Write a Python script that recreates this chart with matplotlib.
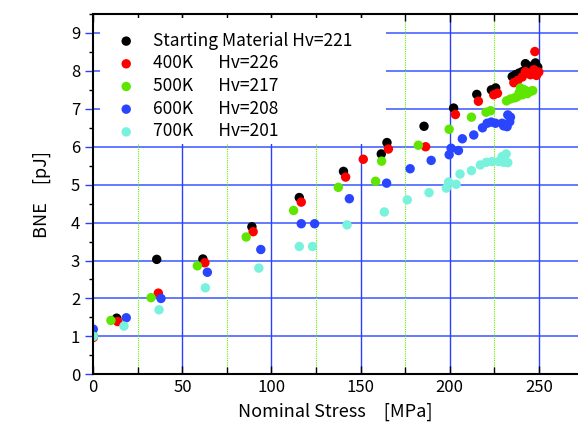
import matplotlib
matplotlib.use("Agg")
import matplotlib.pyplot as plt
from matplotlib.patches import Rectangle
from matplotlib.ticker import MultipleLocator

plt.rcParams['font.family'] = ['Noto Sans CJK JP', 'DejaVu Sans']

# data (Nominal Stress [MPa], BNE [pJ])
black_x = [0, 13.1, 35.6, 61.5, 89.0, 115.6, 140.4, 161.6, 164.8, 185.6, 202.2, 215.2, 223.4, 225.8,
           235.1, 236.9, 238.8, 240.7, 242.5, 244.9, 248.1, 249.4]
black_y = [1.0, 1.48, 3.03, 3.04, 3.89, 4.66, 5.35, 5.81, 6.11, 6.54, 7.02, 7.38, 7.50, 7.55,
           7.85, 7.90, 7.94, 7.98, 8.19, 8.12, 8.21, 8.10]

red_x = [0, 13.7, 36.5, 62.6, 89.7, 116.7, 141.6, 151.5, 165.6, 186.5, 203.2, 216.1, 224.7, 226.8,
         236.0, 238.2, 240.7, 242.5, 243.5, 245.3, 247.2, 247.8, 248.7, 250.0]
red_y = [0.97, 1.39, 2.14, 2.94, 3.76, 4.54, 5.20, 5.67, 5.94, 6.00, 6.85, 7.20, 7.37, 7.41,
         7.69, 7.75, 7.84, 7.98, 7.94, 7.90, 8.03, 8.51, 7.88, 7.97]

green_x = [0, 9.9, 32.4, 58.4, 85.8, 112.4, 137.5, 158.4, 161.8, 182.4, 199.7, 212.2, 220.4, 222.9,
           231.9, 234.1, 236.5, 237.9, 239.0, 239.7, 240.8, 242.0, 243.5, 245.3, 246.6]
green_y = [1.0, 1.42, 2.02, 2.86, 3.62, 4.32, 4.93, 5.09, 5.62, 6.04, 6.46, 6.78, 6.91, 6.95,
           7.21, 7.26, 7.29, 7.32, 7.43, 7.55, 7.37, 7.50, 7.40, 7.46, 7.48]

blue_x = [0, 18.5, 38.0, 64.0, 94.0, 116.7, 124.2, 143.7, 164.6, 177.8, 189.6, 199.7, 200.8, 204.9,
          207.1, 213.5, 218.4, 221.0, 223.3, 225.7, 229.4, 230.3, 232.2, 232.6, 233.7, 234.1]
blue_y = [1.19, 1.49, 2.0, 2.69, 3.29, 3.97, 3.97, 4.63, 5.04, 5.42, 5.64, 5.79, 5.96, 5.90,
          6.21, 6.31, 6.50, 6.62, 6.65, 6.62, 6.62, 6.55, 6.53, 6.84, 6.66, 6.78]

cyan_x = [0, 17.2, 36.9, 62.9, 92.9, 115.6, 123.0, 142.4, 163.3, 176.2, 188.4, 198.1, 199.4, 203.6,
          205.8, 212.2, 217.2, 220.6, 223.8, 227.5, 229.4, 230.3, 231.7, 232.6]
cyan_y = [1.0, 1.27, 1.70, 2.28, 2.80, 3.37, 3.37, 3.94, 4.28, 4.60, 4.79, 4.91, 5.07, 5.01,
          5.28, 5.37, 5.52, 5.59, 5.61, 5.61, 5.74, 5.59, 5.81, 5.58]

labels = ['Starting Material Hv=221',
          '400K\u3000  Hv=226',
          '500K\u3000  Hv=217',
          '600K\u3000  Hv=208',
          '700K\u3000  Hv=201']
colors = ['#000000', '#ff0000', '#5ee600', '#2a45ff', '#78f2dc']
series = [(black_x, black_y), (red_x, red_y), (green_x, green_y), (blue_x, blue_y), (cyan_x, cyan_y)]

fig = plt.figure(figsize=(5.78, 4.26), dpi=100)
ax = fig.add_axes([0.1614, 0.1214, 0.8386, 0.8457])
ax.set_xlim(0, 272)
ax.set_ylim(0, 9.5)
ax.set_axisbelow(True)

# grid
for v in range(1, 10):
    ax.axhline(v, color='#3a55ff', lw=1.1, zorder=0.5)
for v in [50, 100, 150, 200, 250]:
    ax.axvline(v, color='#2a40ff', lw=1.0, zorder=0.5)
for v in [25, 75, 125, 175, 225]:
    ax.axvline(v, color='#66ee00', lw=0.8, ls=(0, (1, 1)), zorder=0.5)

# white box behind legend
ax.add_patch(Rectangle((0.014, 0.64), 0.589, 0.35, transform=ax.transAxes,
                       facecolor='white', edgecolor='none', zorder=1))

for (xs, ys), c, lab in zip(series, colors, labels):
    ax.scatter(xs, ys, s=46, color=c, edgecolors='none', label=lab, zorder=2)

leg = ax.legend(loc='upper left', bbox_to_anchor=(0.05, 0.951), frameon=False,
                fontsize=12.5, handlelength=1.0, handletextpad=1.05, borderpad=0,
                borderaxespad=0, labelspacing=0.27, scatterpoints=1)
leg.set_zorder(5)

ax.xaxis.set_major_locator(MultipleLocator(50))
ax.xaxis.set_minor_locator(MultipleLocator(25))
ax.yaxis.set_major_locator(MultipleLocator(1))
ax.yaxis.set_minor_locator(MultipleLocator(0.5))
ax.tick_params(axis='x', which='both', direction='in', top=True, labelsize=12, color='black')
ax.tick_params(axis='x', which='major', length=6, width=1)
ax.tick_params(axis='x', which='minor', length=5, width=1)
ax.tick_params(axis='y', which='major', direction='out', length=6, width=1, color='#2a40ff', labelsize=12)
ax.tick_params(axis='y', which='minor', direction='out', length=3, width=1, color='black')
ax.spines['right'].set_visible(False)
for s in ['left', 'bottom', 'top']:
    ax.spines[s].set_linewidth(1.5)

ax.set_xlabel('Nominal Stress\u3000[MPa]', fontsize=13, labelpad=5)
ax.set_ylabel('BNE\u3000[pJ]', fontsize=13, labelpad=14)

fig.savefig('out.png', dpi=100)
